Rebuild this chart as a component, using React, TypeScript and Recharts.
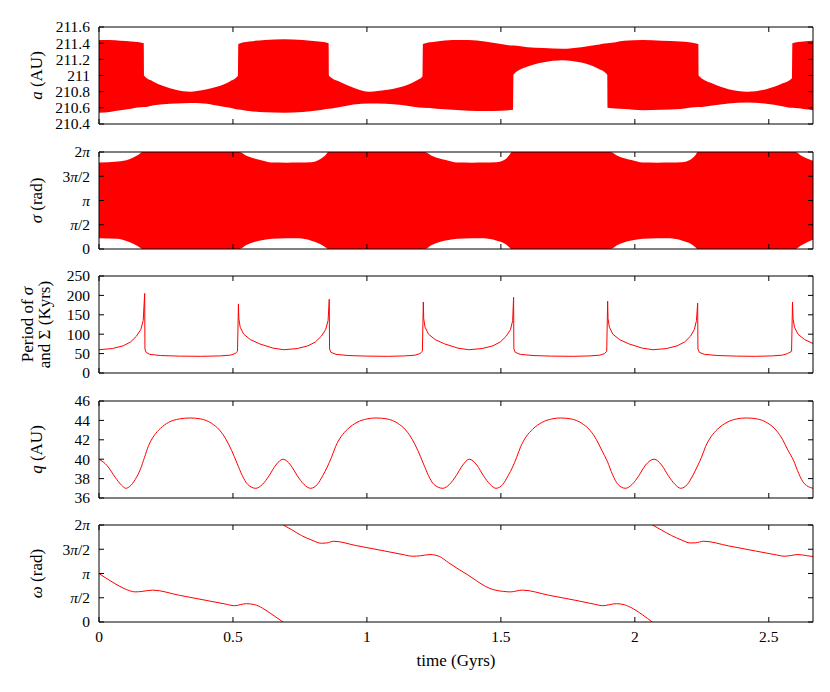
import React from 'react';
import { ComposedChart, Area, Line, XAxis, YAxis, Label } from 'recharts';

// time axis (Gyrs), shared by all five panels
const TIME_MAX = 2.665;
const TIME_TICKS = [0, 0.5, 1, 1.5, 2, 2.5];
const TIME_LABELS = ['0', '0.5', '1', '1.5', '2', '2.5'];

const TWO_PI = 2 * Math.PI;
const ANGLE_TICKS = [0, Math.PI / 2, Math.PI, (3 * Math.PI) / 2, TWO_PI];
const ANGLE_LABELS = ['0', 'π/2', 'π', '3π/2', '2π'];

// panel 1: semi-major axis a, envelope of the fast oscillation
const aTicks = [210.4, 210.6, 210.8, 211, 211.2, 211.4, 211.6];
const aLabels = ['210.4', '210.6', '210.8', '211', '211.2', '211.4', '211.6'];
const aTime = [
  0, 0.04, 0.08, 0.12, 0.167, 0.168, 0.2, 0.24, 0.29, 0.34, 0.39, 0.44, 0.49, 0.519,
  0.52, 0.56, 0.62, 0.69, 0.76, 0.82, 0.857, 0.858, 0.9, 0.95, 1.01, 1.07, 1.13, 1.18,
  1.208, 1.209, 1.26, 1.32, 1.38, 1.44, 1.5, 1.546, 1.547, 1.6, 1.66, 1.73, 1.8, 1.86,
  1.897, 1.898, 1.96, 2.03, 2.1, 2.17, 2.237, 2.238, 2.29, 2.35, 2.42, 2.49, 2.55, 2.587,
  2.588, 2.63, 2.665,
];
const aLow = [
  210.54, 210.55, 210.57, 210.59, 210.61, 210.61, 210.63, 210.645, 210.655, 210.66, 210.655, 210.63, 210.6, 210.58,
  210.58, 210.56, 210.545, 210.54, 210.55, 210.57, 210.59, 210.59, 210.61, 210.64, 210.655, 210.65, 210.635, 210.61,
  210.6, 210.6, 210.59, 210.575, 210.565, 210.56, 210.565, 210.575, 211.01, 211.11, 211.165, 211.19, 211.16, 211.09,
  211.01, 210.6, 210.585, 210.57, 210.575, 210.585, 210.61, 210.61, 210.63, 210.655, 210.665, 210.65, 210.62, 210.6,
  210.6, 210.585, 210.57,
];
const aHigh = [
  211.44, 211.44, 211.43, 211.42, 211.4, 211.0, 210.93, 210.87, 210.82, 210.8, 210.82, 210.86, 210.93, 211.0,
  211.39, 211.42, 211.44, 211.45, 211.44, 211.42, 211.4, 211.0, 210.92, 210.85, 210.8, 210.82, 210.86, 210.93,
  210.99, 211.39, 211.42, 211.44, 211.44, 211.42, 211.39, 211.37, 211.37, 211.35, 211.34, 211.33, 211.35, 211.38,
  211.4, 211.4, 211.43, 211.44, 211.43, 211.42, 211.39, 211.0, 210.9, 210.83, 210.8, 210.83, 210.9, 210.97,
  211.4, 211.42, 211.43,
];

// panel 2: resonant angle sigma (rad), envelope
const sigmaTime = [
  0, 0.07, 0.113, 0.147, 0.163, 0.524, 0.55, 0.602, 0.645, 0.7, 0.745, 0.79, 0.825, 0.845, 0.857,
  1.216, 1.242, 1.294, 1.337, 1.392, 1.437, 1.482, 1.517, 1.531, 1.541,
  1.909, 1.935, 1.987, 2.03, 2.085, 2.13, 2.175, 2.21, 2.226, 2.235,
  2.6, 2.62, 2.645, 2.665,
];
const sigmaLow = [
  0.7, 0.66, 0.45, 0.17, 0, 0, 0.26, 0.55, 0.66, 0.7, 0.69, 0.55, 0.32, 0.12, 0,
  0, 0.26, 0.55, 0.66, 0.7, 0.69, 0.55, 0.32, 0.12, 0,
  0, 0.26, 0.55, 0.66, 0.7, 0.69, 0.55, 0.32, 0.12, 0,
  0, 0.22, 0.45, 0.6,
];
const sigmaHigh = [
  5.6, 5.67, 5.82, 6.11, 6.2832, 6.2832, 6.04, 5.76, 5.6, 5.59, 5.6, 5.62, 5.82, 6.08, 6.2832,
  6.2832, 6.04, 5.76, 5.6, 5.59, 5.6, 5.62, 5.82, 6.08, 6.2832,
  6.2832, 6.04, 5.76, 5.6, 5.59, 5.6, 5.62, 5.82, 6.08, 6.2832,
  6.2832, 6.06, 5.84, 5.71,
];

// panel 3: libration / circulation period (Kyrs)
const periodTicks = [0, 50, 100, 150, 200, 250];
const periodLabels = ['0', '50', '100', '150', '200', '250'];
const periodTime = [
  0, 0.05, 0.09, 0.118, 0.14, 0.156, 0.165, 0.1705, 0.1715, 0.176, 0.19, 0.23, 0.3, 0.38, 0.45, 0.49, 0.508, 0.517,
  0.5205, 0.522, 0.527, 0.54, 0.565, 0.6, 0.65, 0.69, 0.74, 0.78, 0.808, 0.83, 0.846, 0.855,
  0.8595, 0.8605, 0.866, 0.885, 0.93, 1.0, 1.08, 1.14, 1.18, 1.198, 1.207,
  1.2105, 1.212, 1.217, 1.23, 1.255, 1.29, 1.34, 1.38, 1.43, 1.47, 1.498, 1.52, 1.536, 1.544,
  1.5475, 1.5485, 1.554, 1.573, 1.62, 1.69, 1.77, 1.83, 1.87, 1.887, 1.895,
  1.8985, 1.9, 1.905, 1.918, 1.943, 1.978, 2.028, 2.068, 2.118, 2.158, 2.186, 2.208, 2.222, 2.23,
  2.2345, 2.2355, 2.241, 2.26, 2.31, 2.38, 2.45, 2.51, 2.55, 2.57, 2.585,
  2.5885, 2.5905, 2.596, 2.609, 2.634, 2.665,
];
const periodValue = [
  60, 63, 70, 80, 95, 112, 135, 205, 62, 53, 48, 45, 43.5, 43, 44, 46, 50, 56,
  178, 140, 118, 100, 86, 75, 64, 60, 63, 70, 80, 95, 112, 135,
  190, 62, 53, 48, 45, 43.5, 43, 44, 46, 50, 56,
  183, 140, 118, 100, 86, 75, 64, 60, 63, 70, 80, 95, 112, 135,
  195, 62, 53, 48, 45, 43.5, 43, 44, 46, 50, 56,
  185, 140, 118, 100, 86, 75, 64, 60, 63, 70, 80, 95, 112, 135,
  180, 62, 53, 48, 45, 43.5, 43, 44, 46, 50, 56,
  183, 140, 118, 100, 86, 76,
];

// panel 4: perihelion distance q (AU)
const qTicks = [36, 38, 40, 42, 44, 46];
const qLabels = ['36', '38', '40', '42', '44', '46'];
const qTime = [
  0, 0.03, 0.06, 0.085, 0.1, 0.115, 0.135, 0.155, 0.17, 0.185, 0.205, 0.23, 0.26, 0.3, 0.34, 0.38, 0.42, 0.45,
  0.475, 0.495, 0.515, 0.535, 0.555, 0.585, 0.61, 0.635, 0.66, 0.687, 0.715, 0.74, 0.765, 0.79, 0.815, 0.835,
  0.852, 0.868, 0.883, 0.903, 0.928, 0.963, 1.0, 1.034, 1.075, 1.115, 1.145, 1.17, 1.19, 1.21, 1.23, 1.25,
  1.283, 1.308, 1.333, 1.358, 1.382, 1.41, 1.435, 1.46, 1.482, 1.507, 1.527, 1.544, 1.559, 1.574, 1.594,
  1.619, 1.654, 1.69, 1.722, 1.762, 1.802, 1.832, 1.857, 1.877, 1.897, 1.917, 1.937, 1.965, 1.99, 2.015,
  2.04, 2.072, 2.1, 2.125, 2.15, 2.171, 2.196, 2.216, 2.234, 2.249, 2.264, 2.284, 2.309, 2.344, 2.38,
  2.417, 2.457, 2.497, 2.527, 2.552, 2.572, 2.592, 2.612, 2.632, 2.665,
];
const qValue = [
  40.0, 39.35, 38.15, 37.3, 37.0, 37.2, 37.9, 39.0, 40.2, 41.4, 42.4, 43.2, 43.8, 44.15, 44.25, 44.15, 43.7, 43.0,
  42.0, 40.9, 39.6, 38.3, 37.4, 37.0, 37.4, 38.3, 39.4, 40.0, 39.4, 38.3, 37.4, 37.0, 37.4, 38.3,
  39.2, 40.2, 41.3, 42.3, 43.1, 43.8, 44.15, 44.25, 44.15, 43.7, 43.0, 42.0, 40.9, 39.6, 38.3, 37.4,
  37.0, 37.4, 38.3, 39.4, 40.0, 39.4, 38.3, 37.4, 37.0, 37.4, 38.3, 39.2, 40.2, 41.3, 42.3,
  43.1, 43.8, 44.15, 44.25, 44.15, 43.7, 43.0, 42.0, 40.9, 39.8, 38.4, 37.4, 37.0, 37.4, 38.3,
  39.4, 40.0, 39.4, 38.3, 37.4, 37.0, 37.4, 38.3, 39.3, 40.2, 41.3, 42.3, 43.1, 43.8, 44.15,
  44.25, 44.15, 43.7, 43.0, 42.0, 40.9, 39.9, 38.5, 37.5, 37.0,
];

// panel 5: argument of perihelion omega (rad), wraps at 0 / 2pi
const omegaTime = [
  0, 0.03, 0.06, 0.09, 0.115, 0.135, 0.16, 0.2, 0.3, 0.4, 0.47, 0.505, 0.55, 0.58, 0.61, 0.645, 0.687,
  0.6875,
  0.688, 0.72, 0.756, 0.795, 0.83, 0.85, 0.876, 0.96, 1.06, 1.14, 1.168, 1.2, 1.236, 1.27, 1.305, 1.34,
  1.374, 1.41, 1.442, 1.475, 1.511, 1.535, 1.58, 1.68, 1.78, 1.85, 1.879, 1.931, 1.96, 1.995, 2.03, 2.065,
  2.0655,
  2.066, 2.1, 2.137, 2.176, 2.206, 2.226, 2.257, 2.35, 2.45, 2.53, 2.557, 2.58, 2.609, 2.64, 2.665,
];
const omegaValue: (number | null)[] = [
  3.14, 2.8, 2.48, 2.2, 2.02, 1.95, 1.98, 2.065, 1.73, 1.4, 1.17, 1.055, 1.186, 1.13, 0.9, 0.5, 0.0,
  null,
  6.2832, 5.97, 5.6, 5.3, 5.1, 5.12, 5.23, 4.95, 4.62, 4.35, 4.26, 4.29, 4.37, 4.25, 3.84, 3.44,
  3.08, 2.66, 2.31, 2.08, 1.98, 1.95, 2.065, 1.73, 1.4, 1.15, 1.055, 1.186, 1.12, 0.85, 0.45, 0.0,
  null,
  6.2832, 5.95, 5.6, 5.3, 5.12, 5.13, 5.23, 4.93, 4.6, 4.34, 4.26, 4.3, 4.37, 4.3, 4.24,
];

const FONT = '"Liberation Serif", "DejaVu Serif", serif';
const FONT_SIZE = 15.5;
const TITLE_SIZE = 17;
const TICK_LEN = 5;
const RED = '#ff0000';

const LEFT_W = 99;
const RIGHT_W = 17;
const EDGE_H = 12;
const PLOT_H = 97;
const PANEL_TOPS = [27, 152, 276, 401, 525];

// "3π/2" -> 3 <italic π> /2
const mathText = (s: string) => {
  const parts = s.split('π');
  const out: React.ReactNode[] = [];
  parts.forEach((p, i) => {
    if (i > 0) out.push(<tspan key={'p' + i} fontStyle="italic">π</tspan>);
    if (p) out.push(<tspan key={'s' + i}>{p}</tspan>);
  });
  return out;
};

type Side = 'left' | 'right' | 'top' | 'bottom';

const makeTick = (side: Side, ticks: number[], labels?: string[]) => (props: any) => {
  const { x, y, payload } = props;
  const idx = ticks.findIndex((v) => Math.abs(v - payload.value) < 1e-6);
  const label = labels && idx >= 0 ? labels[idx] : null;
  let line;
  if (side === 'left') line = <line x1={x} y1={y} x2={x + TICK_LEN} y2={y} />;
  else if (side === 'right') line = <line x1={x} y1={y} x2={x - TICK_LEN} y2={y} />;
  else if (side === 'top') line = <line x1={x} y1={y} x2={x} y2={y + TICK_LEN} />;
  else line = <line x1={x} y1={y} x2={x} y2={y - TICK_LEN} />;
  return (
    <g>
      <g stroke="#000" strokeWidth={1}>{line}</g>
      {label !== null && side === 'left' && (
        <text x={x - 9} y={y} dy="0.35em" textAnchor="end" fontFamily={FONT} fontSize={FONT_SIZE} fill="#000">
          {mathText(label)}
        </text>
      )}
      {label !== null && side === 'bottom' && (
        <text x={x} y={y + 20} textAnchor="middle" fontFamily={FONT} fontSize={FONT_SIZE} fill="#000">
          {label}
        </text>
      )}
    </g>
  );
};

// rotated y-axis title, one or two lines
const yTitle = (lines: React.ReactNode[], xs: number[]) => (props: any) => {
  const vb = props.viewBox || { x: 0, y: 0, width: 0, height: 0 };
  const cy = vb.y + vb.height / 2;
  return (
    <g>
      {lines.map((ln, i) => (
        <text
          key={i}
          x={xs[i]}
          y={cy}
          dy="0.35em"
          textAnchor="middle"
          transform={`rotate(-90, ${xs[i]}, ${cy})`}
          fontFamily={FONT}
          fontSize={TITLE_SIZE}
          fill="#000"
        >
          {ln}
        </text>
      ))}
    </g>
  );
};

const xTitle = (props: any) => {
  const vb = props.viewBox || { x: 0, y: 0, width: 0, height: 0 };
  return (
    <text x={vb.x + vb.width / 2} y={vb.y + 44} textAnchor="middle" fontFamily={FONT} fontSize={TITLE_SIZE} fill="#000">
      time (Gyrs)
    </text>
  );
};

interface PanelProps {
  index: number;
  data: any[];
  yDomain: [number, number];
  yTicks: number[];
  yLabels: string[];
  title: React.ReactNode[];
  titleX: number[];
  last?: boolean;
  children: React.ReactNode;
}

function Panel({ index, data, yDomain, yTicks, yLabels, title, titleX, last, children }: PanelProps) {
  const bottomH = last ? 56 : EDGE_H;
  const height = EDGE_H + PLOT_H + bottomH;
  return (
    <div style={{ position: 'absolute', left: 0, top: PANEL_TOPS[index] - EDGE_H }}>
      <ComposedChart width={830} height={height} data={data} margin={{ top: 0, right: 0, bottom: 0, left: 0 }}>
        <XAxis
          xAxisId="b"
          dataKey="t"
          type="number"
          domain={[0, TIME_MAX]}
          ticks={TIME_TICKS}
          interval={0}
          allowDataOverflow
          height={bottomH}
          tickSize={0}
          tickMargin={0}
          tickLine={false}
          axisLine={{ stroke: '#000' }}
          tick={makeTick('bottom', TIME_TICKS, last ? TIME_LABELS : undefined)}
        >
          {last && <Label content={xTitle} />}
        </XAxis>
        <XAxis
          xAxisId="t"
          orientation="top"
          dataKey="t"
          type="number"
          domain={[0, TIME_MAX]}
          ticks={TIME_TICKS}
          interval={0}
          allowDataOverflow
          height={EDGE_H}
          tickSize={0}
          tickMargin={0}
          tickLine={false}
          axisLine={{ stroke: '#000' }}
          tick={makeTick('top', TIME_TICKS)}
        />
        <YAxis
          yAxisId="l"
          type="number"
          domain={yDomain}
          ticks={yTicks}
          interval={0}
          allowDataOverflow
          width={LEFT_W}
          tickSize={0}
          tickMargin={0}
          tickLine={false}
          axisLine={{ stroke: '#000' }}
          tick={makeTick('left', yTicks, yLabels)}
        >
          <Label content={yTitle(title, titleX)} />
        </YAxis>
        <YAxis
          yAxisId="r"
          orientation="right"
          type="number"
          domain={yDomain}
          ticks={yTicks}
          interval={0}
          allowDataOverflow
          width={RIGHT_W}
          tickSize={0}
          tickMargin={0}
          tickLine={false}
          axisLine={{ stroke: '#000' }}
          tick={makeTick('right', yTicks)}
        />
        {children}
      </ComposedChart>
    </div>
  );
}

export default function App() {
  const aData = aTime.map((t, i) => ({ t, a: [aLow[i], aHigh[i]] }));
  const sigmaData = sigmaTime.map((t, i) => ({ t, sigma: [sigmaLow[i], sigmaHigh[i]] }));
  const periodData = periodTime.map((t, i) => ({ t, period: periodValue[i] }));
  const qData = qTime.map((t, i) => ({ t, q: qValue[i] }));
  const omegaData = omegaTime.map((t, i) => ({ t, omega: omegaValue[i] }));

  return (
    <div style={{ position: 'absolute', left: 0, top: 0, width: 830, height: 692, background: '#fff', fontFamily: FONT }}>
      <Panel
        index={0}
        data={aData}
        yDomain={[210.4, 211.6]}
        yTicks={aTicks}
        yLabels={aLabels}
        title={[[<tspan key="a" fontStyle="italic">a</tspan>, <tspan key="b"> (AU)</tspan>]]}
        titleX={[36]}
      >
        <Area xAxisId="b" yAxisId="l" dataKey="a" type="monotone" stroke="none" fill={RED} fillOpacity={1} isAnimationActive={false} />
      </Panel>
      <Panel
        index={1}
        data={sigmaData}
        yDomain={[0, TWO_PI]}
        yTicks={ANGLE_TICKS}
        yLabels={ANGLE_LABELS}
        title={[[<tspan key="a" fontStyle="italic">σ</tspan>, <tspan key="b"> (rad)</tspan>]]}
        titleX={[36]}
      >
        <Area xAxisId="b" yAxisId="l" dataKey="sigma" type="monotone" stroke="none" fill={RED} fillOpacity={1} isAnimationActive={false} />
      </Panel>
      <Panel
        index={2}
        data={periodData}
        yDomain={[0, 250]}
        yTicks={periodTicks}
        yLabels={periodLabels}
        title={[
          [<tspan key="a">Period of </tspan>, <tspan key="b" fontStyle="italic">σ</tspan>],
          [<tspan key="c">and Σ (Kyrs)</tspan>],
        ]}
        titleX={[27, 44]}
      >
        <Line xAxisId="b" yAxisId="l" dataKey="period" type="linear" stroke={RED} strokeWidth={1} dot={false} isAnimationActive={false} />
      </Panel>
      <Panel
        index={3}
        data={qData}
        yDomain={[36, 46]}
        yTicks={qTicks}
        yLabels={qLabels}
        title={[[<tspan key="a" fontStyle="italic">q</tspan>, <tspan key="b"> (AU)</tspan>]]}
        titleX={[36]}
      >
        <Line xAxisId="b" yAxisId="l" dataKey="q" type="monotone" stroke={RED} strokeWidth={1} dot={false} isAnimationActive={false} />
      </Panel>
      <Panel
        index={4}
        data={omegaData}
        yDomain={[0, TWO_PI]}
        yTicks={ANGLE_TICKS}
        yLabels={ANGLE_LABELS}
        title={[[<tspan key="a" fontStyle="italic">ω</tspan>, <tspan key="b"> (rad)</tspan>]]}
        titleX={[36]}
        last
      >
        <Line xAxisId="b" yAxisId="l" dataKey="omega" type="monotone" stroke={RED} strokeWidth={1} dot={false} connectNulls={false} isAnimationActive={false} />
      </Panel>
    </div>
  );
}
